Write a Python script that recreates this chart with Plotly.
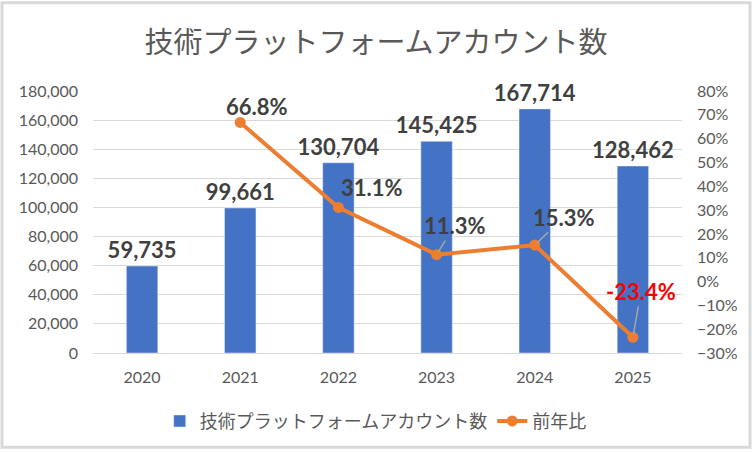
import plotly.graph_objects as go

years = [2020, 2021, 2022, 2023, 2024, 2025]
accounts = [59735, 99661, 130704, 145425, 167714, 128462]
yoy_years = [2021, 2022, 2023, 2024, 2025]
yoy = [0.668, 0.311, 0.113, 0.153, -0.234]

bar_name = "技術プラットフォームアカウント数"
line_name = "前年比"

W, H = 752, 452
ML, MR, MT, MB = 93, 70, 91, 97

num_font = "Lato, Noto Sans CJK JP, sans-serif"
jp_font = "Noto Sans CJK JP, sans-serif"

fig = go.Figure()

fig.add_trace(go.Bar(
    x=years, y=accounts, name=bar_name,
    marker_color="#4472C4",
    text=[f"<b>{v:,}</b>" for v in accounts],
    textposition="outside",
    constraintext="none",
    cliponaxis=False,
    textfont=dict(family=num_font, size=22, color="#404040"),
))

fig.add_trace(go.Scatter(
    x=yoy_years, y=yoy, name=line_name, yaxis="y2",
    mode="lines+markers",
    line=dict(color="#ED7D31", width=4),
    marker=dict(color="#ED7D31", size=11),
))

# 前年比ラベル (位置はExcelで手動調整されたもの)
label_offsets = [(17, -16, False), (34, -20, False), (18, -29, True), (29, -28, True), (8, -46, True)]
for yr, v, (dx, dy, arrow) in zip(yoy_years, yoy, label_offsets):
    color = "#FF0000" if v < 0 else "#404040"
    txt = f"<b>{v * 100:.1f}%</b>"
    if arrow:
        fig.add_annotation(
            x=yr, y=v, xref="x", yref="y2", text=txt, showarrow=True,
            ax=dx, ay=dy, arrowhead=0, arrowwidth=1.5, arrowcolor="#A6A6A6",
            standoff=3,
            font=dict(family=num_font, size=22, color=color),
        )
    else:
        fig.add_annotation(
            x=yr, y=v, xref="x", yref="y2", text=txt, showarrow=False,
            xshift=dx, yshift=-dy,
            font=dict(family=num_font, size=22, color=color),
        )

# 外枠
pw = W - ML - MR
ph = H - MT - MB
fig.add_shape(
    type="rect", xref="paper", yref="paper",
    x0=(2 - ML) / pw, x1=(W - 2 - ML) / pw,
    y0=-(MB - 2) / ph, y1=(H - MB - 2) / ph,
    line=dict(color="#D9D9D9", width=3),
    layer="below",
)

fig.update_layout(
    width=W, height=H,
    margin=dict(l=ML, r=MR, t=MT, b=MB),
    paper_bgcolor="white",
    plot_bgcolor="white",
    title=dict(
        text=bar_name, x=0.5, xanchor="center", y=0.905, yanchor="middle",
        font=dict(family=jp_font, size=29, color="#595959"),
    ),
    bargap=0.68,
    showlegend=True,
    legend=dict(
        orientation="h", x=0.48, xanchor="center", y=-0.19, yanchor="top",
        font=dict(family=jp_font, size=18, color="#595959"),
    ),
    xaxis=dict(
        range=[2019.5, 2025.5], dtick=1, tick0=2020,
        showgrid=False,
        showline=True, linecolor="#D9D9D9",
        tickfont=dict(family=num_font, size=16, color="#595959"),
        ticks="", ticklabelstandoff=10,
    ),
    yaxis=dict(
        range=[0, 180000], dtick=20000,
        tickformat=",",
        showgrid=True, gridcolor="#D9D9D9", gridwidth=1,
        zeroline=False,
        tickfont=dict(family=num_font, size=16, color="#595959"),
        ticklabelstandoff=14,
    ),
    yaxis2=dict(
        overlaying="y", side="right",
        range=[-0.3, 0.8], dtick=0.1,
        tickformat=".0%",
        showgrid=False, zeroline=False,
        tickfont=dict(family=num_font, size=16, color="#595959"),
        ticklabelstandoff=14,
    ),
)

fig.write_html(
    "out.html",
    config={"displayModeBar": False},
    post_script="document.body.style.margin='0';",
)
